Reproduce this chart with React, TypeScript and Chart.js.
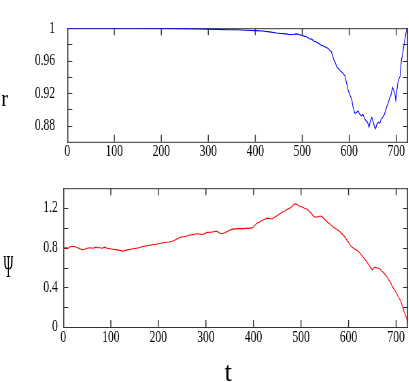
import React, { useEffect, useRef } from "react";
import { Chart, registerables } from "chart.js";

Chart.register(...registerables);

// ---------- data ----------
const xMax = 725;
const xTicks = [0, 100, 200, 300, 400, 500, 600, 700];

const rTicks = [0.88, 0.92, 0.96, 1];
const rTickLabels = ["0.88", "0.92", "0.96", "1"];
const rMinor = [0.88, 0.9, 0.92, 0.94, 0.96, 0.98];

const psiTicks = [0, 0.4, 0.8, 1.2];
const psiTickLabels = ["0", "0.4", "0.8", "1.2"];
const psiMinor = [0.2, 0.4, 0.6, 0.8, 1.0, 1.2];

const tR = [
  0, 50, 100, 150, 200, 250, 280, 300, 320, 340,
  360, 380, 400, 415, 430, 445, 455, 465, 474, 482,
  488, 495, 502, 509, 515, 520, 525, 530, 535, 540,
  545, 550, 555, 558, 562, 565, 568, 570, 573, 577,
  580, 584, 587, 591, 594, 596, 598, 601, 605, 608,
  612, 615, 619, 622, 626, 629, 633, 636, 639, 642,
  645, 648, 651, 654, 656, 659, 662, 665, 668, 672,
  675, 678, 681, 683, 686, 689, 692, 695, 697, 699,
  701, 704, 706, 708, 711, 713, 716, 718, 720, 722,
  723,
];
const rValues = [
  1.0, 1.0, 1.0, 0.9999, 0.9998, 0.9995, 0.999, 0.9988, 0.9985, 0.998,
  0.998, 0.9975, 0.997, 0.9965, 0.9955, 0.994, 0.9935, 0.993, 0.992, 0.9925,
  0.993, 0.992, 0.9905, 0.9895, 0.987, 0.9865, 0.984, 0.983, 0.981, 0.979,
  0.978, 0.9765, 0.975, 0.973, 0.971, 0.965, 0.96, 0.958, 0.953, 0.95,
  0.948, 0.946, 0.944, 0.941, 0.933, 0.928, 0.923, 0.918, 0.913, 0.903,
  0.895, 0.896, 0.898, 0.894, 0.892, 0.894, 0.888, 0.886, 0.884, 0.878,
  0.886, 0.89, 0.884, 0.878, 0.876, 0.882, 0.884, 0.883, 0.888, 0.891,
  0.894, 0.9, 0.905, 0.908, 0.914, 0.918, 0.927, 0.923, 0.92, 0.911,
  0.922, 0.935, 0.938, 0.94, 0.961, 0.966, 0.978, 0.985, 0.992, 0.998,
  0.9999,
];

const tPsi = [
  0, 5, 10, 15, 20, 25, 30, 35, 40, 45,
  50, 56, 62, 68, 73, 77, 82, 87, 92, 98,
  104, 110, 116, 121, 126, 131, 137, 142, 147, 153,
  159, 165, 170, 176, 182, 188, 194, 200, 205, 210,
  216, 222, 228, 234, 240, 246, 252, 258, 264, 270,
  276, 282, 288, 295, 302, 310, 316, 323, 328, 333,
  340, 346, 352, 358, 364, 370, 376, 382, 390, 397,
  402, 407, 413, 418, 423, 428, 434, 439, 444, 450,
  455, 460, 466, 472, 477, 481, 484, 488, 492, 495,
  498, 503, 508, 512, 517, 521, 526, 530, 535, 540,
  544, 548, 553, 558, 563, 568, 573, 578, 582, 586,
  591, 596, 600, 603, 607, 612, 618, 623, 628, 633,
  638, 643, 649, 653, 656, 660, 665, 670, 675, 680,
  684, 688, 692, 695, 700, 705, 709, 713, 717, 720,
  723, 724, 725,
];
const psiValues = [
  0.79, 0.8, 0.795, 0.81, 0.815, 0.81, 0.8, 0.79, 0.78, 0.785,
  0.795, 0.8, 0.795, 0.805, 0.8, 0.8, 0.795, 0.805, 0.795, 0.79,
  0.785, 0.78, 0.775, 0.77, 0.765, 0.775, 0.78, 0.785, 0.79, 0.795,
  0.8, 0.81, 0.815, 0.82, 0.825, 0.83, 0.835, 0.84, 0.845, 0.85,
  0.855, 0.858, 0.863, 0.875, 0.89, 0.905, 0.91, 0.915, 0.925, 0.93,
  0.935, 0.94, 0.935, 0.935, 0.954, 0.955, 0.96, 0.965, 0.95, 0.94,
  0.95, 0.965, 0.98, 0.99, 0.99, 0.995, 0.99, 0.995, 0.995, 1.0,
  1.02, 1.047, 1.06, 1.075, 1.085, 1.098, 1.095, 1.09, 1.105, 1.125,
  1.14, 1.158, 1.17, 1.19, 1.2, 1.215, 1.236, 1.243, 1.235, 1.225,
  1.215, 1.21, 1.195, 1.19, 1.17, 1.15, 1.12, 1.108, 1.11, 1.12,
  1.115, 1.095, 1.07, 1.05, 1.03, 1.007, 0.99, 0.975, 0.96, 0.94,
  0.915, 0.88, 0.855, 0.83, 0.806, 0.79, 0.772, 0.75, 0.72, 0.69,
  0.66, 0.625, 0.578, 0.595, 0.604, 0.595, 0.59, 0.564, 0.54, 0.51,
  0.477, 0.45, 0.41, 0.387, 0.35, 0.3, 0.269, 0.21, 0.151, 0.11,
  0.075, 0.03, 0.0,
];

// ---------- layout ----------
const SX = 0.68; // horizontal squeeze of the original figure
const W = 602; // unsqueezed width
const FONT = "'Liberation Serif', 'Times New Roman', serif";

const framePlugin = {
  id: "frameTicks",
  beforeDatasetsDraw(chart: any, _args: any, opts: any) {
    const { ctx, chartArea } = chart;
    const { left, right, top, bottom } = chartArea;
    const xs = chart.scales.x;
    const ys = chart.scales.y;
    const vw = 1 / SX;
    ctx.save();
    ctx.strokeStyle = opts.color || "#333";
    ctx.lineWidth = 1;
    ctx.beginPath();
    ctx.moveTo(left, top + 0.5);
    ctx.lineTo(right, top + 0.5);
    ctx.moveTo(left, bottom + 0.5);
    ctx.lineTo(right, bottom + 0.5);
    const yl = opts.yLen;
    (opts.yMinor as number[]).forEach((v) => {
      const p = Math.round(ys.getPixelForValue(v)) + 0.5;
      ctx.moveTo(left, p);
      ctx.lineTo(left + yl, p);
      ctx.moveTo(right, p);
      ctx.lineTo(right - yl, p);
    });
    ctx.stroke();
    ctx.lineWidth = vw;
    ctx.beginPath();
    ctx.moveTo(left + vw / 2, top);
    ctx.lineTo(left + vw / 2, bottom + 1);
    ctx.moveTo(right - vw / 2, top);
    ctx.lineTo(right - vw / 2, bottom + 1);
    const xl = opts.xLen;
    (opts.xMajor as number[]).forEach((v) => {
      if (v === 0) return;
      const p = xs.getPixelForValue(v);
      ctx.moveTo(p, bottom);
      ctx.lineTo(p, bottom - xl);
      ctx.moveTo(p, top);
      ctx.lineTo(p, top + xl);
    });
    ctx.stroke();
    ctx.restore();
  },
};

function makeConfig(
  tArr: number[],
  vArr: number[],
  color: string,
  yMin: number,
  yMax: number,
  yTicks: number[],
  yLabels: string[],
  yMinor: number[],
  yAxisWidth: number,
  xAxisHeight: number,
  padTop: number,
  yPad: number
): any {
  return {
    type: "line",
    data: {
      datasets: [
        {
          data: tArr.map((t, i) => ({ x: t, y: vArr[i] })),
          borderColor: color,
          borderWidth: 1.1,
          pointRadius: 0,
          tension: 0,
          fill: false,
        },
      ],
    },
    options: {
      animation: false,
      responsive: false,
      devicePixelRatio: 1,
      layout: { padding: { top: padTop, right: 2, left: 0, bottom: 0 } },
      plugins: {
        legend: { display: false },
        tooltip: { enabled: false },
        frameTicks: {
          color: "#333",
          yMinor,
          xMajor: xTicks,
          yLen: 5 / SX,
          xLen: 7,
        },
      },
      scales: {
        x: {
          type: "linear",
          min: 0,
          max: xMax,
          grid: { display: false, drawTicks: false },
          border: { display: false },
          afterBuildTicks: (s: any) => {
            s.ticks = xTicks.map((v) => ({ value: v }));
          },
          afterFit: (s: any) => {
            s.height = xAxisHeight;
          },
          ticks: {
            autoSkip: false,
            maxRotation: 0,
            padding: 0,
            color: "#000",
            font: { family: FONT, size: 17 },
            callback: (v: any) => String(v),
          },
        },
        y: {
          type: "linear",
          min: yMin,
          max: yMax,
          grid: { display: false, drawTicks: false },
          border: { display: false },
          afterBuildTicks: (s: any) => {
            s.ticks = yTicks.map((v) => ({ value: v }));
          },
          afterFit: (s: any) => {
            s.width = yAxisWidth;
          },
          ticks: {
            autoSkip: false,
            padding: yPad,
            color: "#000",
            font: { family: FONT, size: 17 },
            callback: (_v: any, i: number) => yLabels[i],
          },
        },
      },
    },
    plugins: [framePlugin],
  };
}

export default function App() {
  const topRef = useRef<HTMLCanvasElement>(null);
  const botRef = useRef<HTMLCanvasElement>(null);

  useEffect(() => {
    const c1 = new Chart(
      topRef.current as HTMLCanvasElement,
      makeConfig(tR, rValues, "#0000ff", 0.86, 1.0, rTicks, rTickLabels, rMinor, 99, 22, 8, 18)
    );
    const c2 = new Chart(
      botRef.current as HTMLCanvasElement,
      makeConfig(tPsi, psiValues, "#ff0000", 0, 1.4, psiTicks, psiTickLabels, psiMinor, 93, 55, 18, 8)
    );
    return () => {
      c1.destroy();
      c2.destroy();
    };
  }, []);

  const letter = (extra: React.CSSProperties): React.CSSProperties => ({
    position: "absolute",
    fontFamily: FONT,
    lineHeight: 1,
    color: "#000",
    whiteSpace: "nowrap",
    transformOrigin: "0 0",
    ...extra,
  });

  return (
    <div
      style={{
        position: "fixed",
        left: 0,
        top: 0,
        width: 409,
        height: 382,
        overflow: "hidden",
        background: "#fff",
      }}
    >
      <div
        style={{
          position: "relative",
          width: W,
          height: 382,
          transform: `scaleX(${SX})`,
          transformOrigin: "0 0",
        }}
      >
        <canvas
          ref={topRef}
          width={W}
          height={170}
          style={{ position: "absolute", left: 0, top: 0, width: W, height: 170 }}
        />
        <canvas
          ref={botRef}
          width={W}
          height={212}
          style={{ position: "absolute", left: 0, top: 170, width: W, height: 212 }}
        />
        <div style={letter({ left: 2, top: 86, fontSize: 24, transform: "scaleX(1.25)" })}>r</div>
        <div style={letter({ left: 4.5, top: 250, fontSize: 32, transform: "scaleX(0.61)" })}>Ψ</div>
        <div style={letter({ left: 330, top: 357.5, fontSize: 28, transform: "scaleX(1.4)" })}>t</div>
      </div>
    </div>
  );
}
